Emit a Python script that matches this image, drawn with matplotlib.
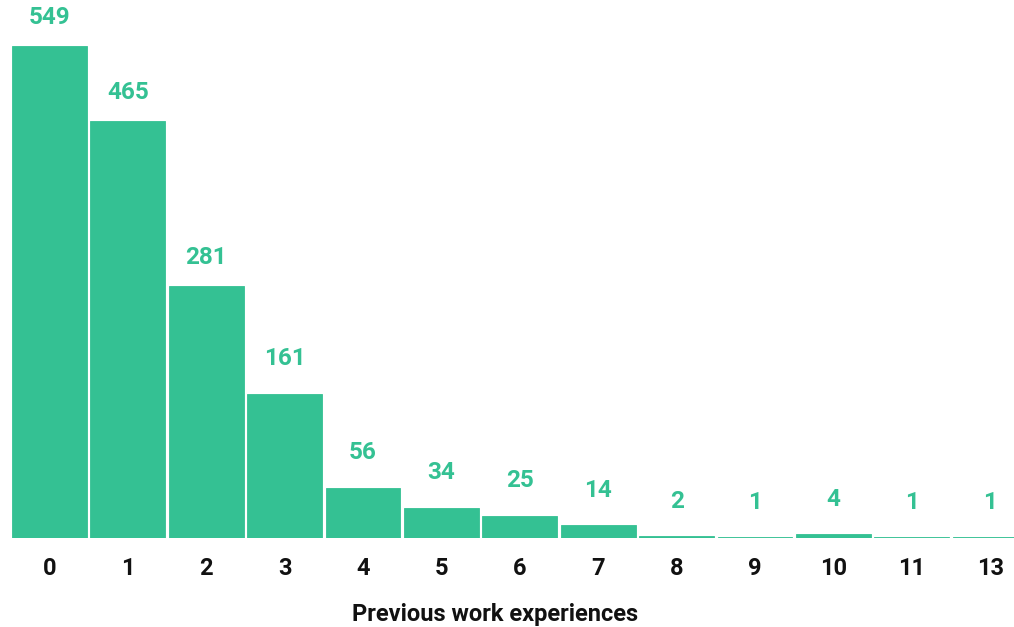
import matplotlib.pyplot as plt

experiences = ['0', '1', '2', '3', '4', '5', '6', '7', '8', '9', '10', '11', '13']
counts = [549, 465, 281, 161, 56, 34, 25, 14, 2, 1, 4, 1, 1]

green = '#34c193'

plt.rcParams['font.family'] = ['Roboto', 'DejaVu Sans']

fig = plt.figure(figsize=(10.14, 6.27), dpi=100)
# the original is cropped a little on the right, so the axes run past the edge
ax = fig.add_axes([10.3 / 1014, 89 / 627, 1019 / 1014, 492 / 627])

pos = list(range(len(experiences)))
ax.bar(pos, counts, width=0.955, color=green, edgecolor=green, linewidth=0.6)

for x, c in zip(pos, counts):
    off = 29 if c > 200 else 35
    ax.annotate(str(c), (x, c), xytext=(0, off * 0.72), textcoords='offset points',
                ha='center', va='center', fontsize=17.5, fontweight='bold', color=green)

ax.set_xlim(-0.5, len(experiences) - 0.5)
ax.set_ylim(0, 549)
ax.set_xticks(pos)
ax.set_xticklabels(experiences, fontsize=17, fontweight='bold', color='#111111')
ax.tick_params(axis='x', length=0, pad=14)
ax.set_yticks([])
for s in ax.spines.values():
    s.set_visible(False)

ax.set_xlabel('Previous work experiences', fontsize=17, fontweight='bold',
              color='#111111')
ax.xaxis.set_label_coords((495 - 10.3) / 1019, -(614 - 538) / 492)
ax.xaxis.label.set_va('center')

fig.savefig('out.png', dpi=100)
